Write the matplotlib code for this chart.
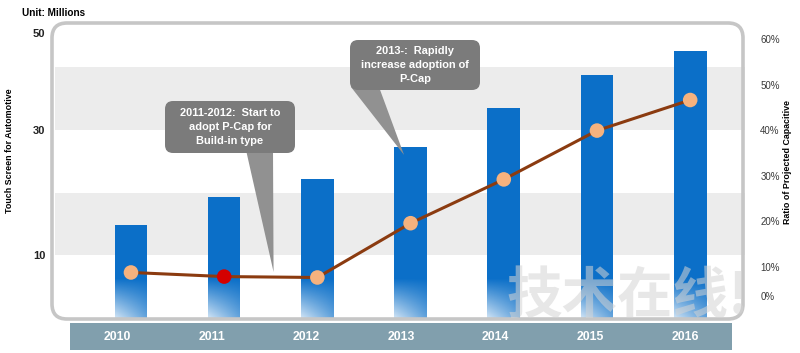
import numpy as np
import matplotlib
matplotlib.use('Agg')
import matplotlib.pyplot as plt
from matplotlib.patches import FancyBboxPatch, Polygon
from matplotlib.transforms import IdentityTransform

# Данные графика
years = ['2010', '2011', '2012', '2013', '2014', '2015', '2016']
touch_screens = [14.8, 19.3, 22.2, 27.2, 33.5, 38.8, 42.6]   # млн шт.
pcap_ratio = [0.088, 0.079, 0.077, 0.196, 0.292, 0.399, 0.466]
left_ticks = [10, 30, 45.5]
left_tick_labels = ['10', '30', '50']
right_ticks = [0.036, 0.1, 0.2, 0.3, 0.4, 0.5, 0.6]
right_tick_labels = ['0%', '10%', '20%', '30%', '40%', '50%', '60%']
bands = [(10, 20), (30, 40)]

plt.rcParams['font.family'] = ['Liberation Sans', 'DejaVu Sans']

bar_color = '#0b6fc8'
line_color = '#8b3b10'
strip_color = '#819fad'

fig = plt.figure(figsize=(8, 3.53), dpi=100)
W, H = 800, 353

# Основная область графика (в пикселях: x 55..745, y 22..318)
ax = fig.add_axes([55 / W, (H - 318) / H, 690 / W, 296 / H])
x = np.arange(len(years))

for lo, hi in bands:
    ax.axhspan(lo, hi, color='#ececec', zorder=0, lw=0)

bars = ax.bar(x, touch_screens, width=0.35, color=bar_color, zorder=2)

# Светлый градиент у основания столбцов
fade = 7.0
gy, gx = np.mgrid[0:1:60j, 0:1:20j]
rgba = np.ones((60, 20, 4))
rgba[..., 3] = np.clip(1 - gy * 1.1, 0, 1) * 0.8 * (1 - 0.55 * gx)
for b in bars:
    x0 = b.get_x()
    im = ax.imshow(rgba, extent=[x0, x0 + b.get_width(), 0, fade], origin='lower',
                   aspect='auto', zorder=3, interpolation='bilinear')
    im.set_clip_path(b)
ax.set_xlim(-0.815, 6.588)
ax.set_ylim(0, 47.2)

for s in ax.spines.values():
    s.set_visible(False)
ax.set_xticks([])
ax.set_yticks(left_ticks)
ax.set_yticklabels(left_tick_labels, fontweight='bold', fontsize=8, color='#222222')
ax.tick_params(axis='y', length=0, pad=7)

# Правая ось: доля P-Cap
ax2 = ax.twinx()
ax2.set_ylim(-0.0118, 0.637)
ax2.plot(x, pcap_ratio, color=line_color, lw=2.2, zorder=3)
colors = ['#f6b27e'] * len(x)
colors[1] = '#d40000'
ax2.scatter(x, pcap_ratio, s=110, c=colors, zorder=4, edgecolors='none')
for s in ax2.spines.values():
    s.set_visible(False)
ax2.set_yticks(right_ticks)
ax2.set_yticklabels(right_tick_labels, fontsize=7, color='#3a3a3a')
ax2.tick_params(axis='y', length=0, pad=11)

# Подписи осей
fig.text(10 / W, 1 - 151 / H, 'Touch Screen for Automotive', rotation=90,
         ha='center', va='center', fontsize=6.4, fontweight='bold')
fig.text(787 / W, 1 - 162 / H, 'Ratio of Projected Capacitive', rotation=90,
         ha='center', va='center', fontsize=6.4, fontweight='bold')
fig.text(22 / W, 1 - 13 / H, 'Unit: Millions', ha='left', va='center',
         fontsize=7.2, fontweight='bold')

# Рамка со скруглёнными углами
frame = FancyBboxPatch((0.52, 0.34), 6.91, 2.96, boxstyle='round,pad=0,rounding_size=0.15',
                       transform=fig.dpi_scale_trans, fc='none', ec='#c6c6c6', lw=2.6,
                       zorder=5)
fig.add_artist(frame)

# Полоса с годами
axs = fig.add_axes([70 / W, (H - 350) / H, 662 / W, 27.3 / H])
axs.set_facecolor(strip_color)
axs.set_xlim(-0.496, 6.494)
axs.set_ylim(0, 1)
for i, yr in enumerate(years):
    axs.text(i, 0.48, yr, ha='center', va='center', fontsize=8.8,
             fontweight='bold', color='white')
axs.set_xticks([])
axs.set_yticks([])
for s in axs.spines.values():
    s.set_visible(False)

# Выноски: текст, прямоугольник (дюймы), центр текста (пиксели),
# основание хвоста (пиксели сверху), точка, ось точки
box_gray = '#7b7b7b'
callouts = [
    ('2011-2012:  Start to\nadopt P-Cap for\nBuild-in type', (1.65, 2.00, 1.30, 0.52),
     (230, 127), [(246, 150), (273, 150)], (1.53, 0.089), ax2),
    ('2013-:  Rapidly\nincrease adoption of\nP-Cap', (3.50, 2.63, 1.30, 0.50),
     (415, 65), [(351, 87), (379, 87)], (2.93, 26.0), ax),
]
for text, (bx, by, bw, bh), (tx, ty), base, xy, tax in callouts:
    tip = tax.transData.transform(xy)
    pts = [(px, H - py) for px, py in base] + [tuple(tip)]
    tail = Polygon(pts, closed=True, transform=IdentityTransform(), fc='#919191',
                   ec='none', zorder=6)
    fig.add_artist(tail)
    box = FancyBboxPatch((bx, by), bw, bh, boxstyle='round,pad=0,rounding_size=0.08',
                         transform=fig.dpi_scale_trans, fc=box_gray, ec='none', zorder=6)
    fig.add_artist(box)
    fig.text(tx / W, 1 - ty / H, text, ha='center', va='center', fontsize=7.9,
             fontweight='bold', color='white', linespacing=1.5, zorder=7)

# Водяной знак
fig.text(628 / W, 1 - 298 / H, '技术在线!', fontsize=40, fontweight='bold',
         family=['Noto Sans CJK SC', 'DejaVu Sans'], color='#d4d4d4', alpha=0.55,
         ha='center', va='center', zorder=8)

fig.savefig('out.png', dpi=100)
